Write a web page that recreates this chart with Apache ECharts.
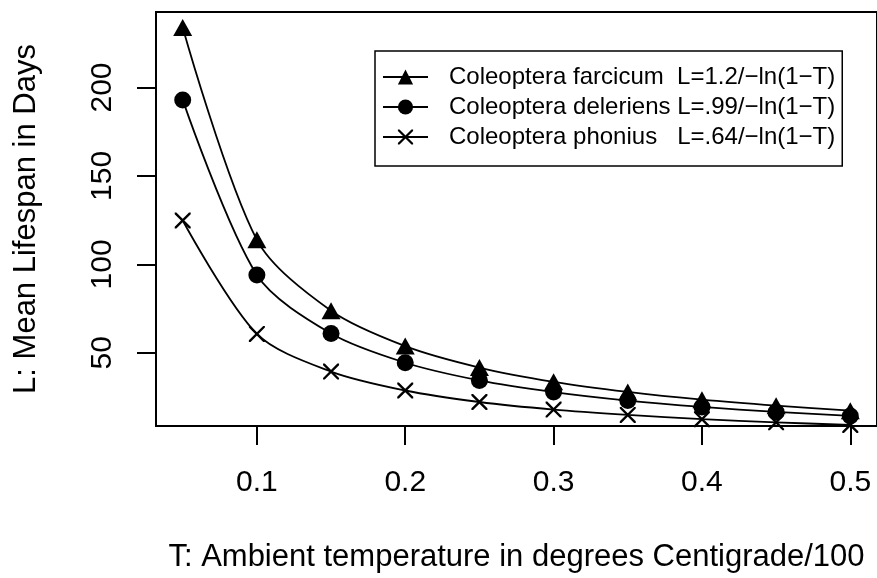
<!DOCTYPE html>
<html>
<head>
<meta charset="utf-8">
<script src="https://cdn.jsdelivr.net/npm/echarts@6/dist/echarts.min.js"></script>
<style>html,body{margin:0;padding:0;background:#fff}#c{width:877px;height:578px}</style>
</head>
<body>
<div id="c"></div>
<script>
const temps = [0.05, 0.10, 0.15, 0.20, 0.25, 0.30, 0.35, 0.40, 0.45, 0.50];
const farcicum = [234, 113.9, 73.8, 53.8, 41.7, 33.6, 27.9, 23.5, 20.1, 17.3];
const deleriens = [193, 94.0, 60.9, 44.4, 34.4, 27.8, 23.0, 19.4, 16.6, 14.3];
const phonius = [124.8, 60.7, 39.4, 28.7, 22.2, 17.9, 14.9, 12.5, 10.7, 9.2];
const seriesNames = [
  'Coleoptera farcicum  L=1.2/\u2212ln(1\u2212T)',
  'Coleoptera deleriens L=.99/\u2212ln(1\u2212T)',
  'Coleoptera phonius   L=.64/\u2212ln(1\u2212T)'
];
const xTicks = [0.1, 0.2, 0.3, 0.4, 0.5];
const yTicks = [50, 100, 150, 200];
const xTitle = 'T: Ambient temperature in degrees Centigrade/100';
const yTitle = 'L: Mean Lifespan in Days';

const FONT = '"Liberation Sans", Arial, Helvetica, sans-serif';
const crossPath = 'path://M0,0L1.05,0L10,8.95L10,10L8.95,10L0,1.05Z M8.95,0L10,0L10,1.05L1.05,10L0,10L0,8.95Z';

function pairs(vals) { return temps.map((t, i) => [t, vals[i]]); }
function mkSeries(name, vals, symbol, size) {
  return {
    name: name, type: 'line', data: pairs(vals),
    smooth: 0.3,
    symbol: symbol, symbolSize: size, showSymbol: true, showAllSymbol: true,
    lineStyle: { color: '#000', width: 1.8 },
    itemStyle: { color: '#000', borderWidth: 0 },
    emphasis: { disabled: true },
    animation: false
  };
}

const chart = echarts.init(document.getElementById('c'), null, { renderer: 'canvas' });
chart.setOption({
  animation: false,
  textStyle: { fontFamily: FONT, color: '#000' },
  grid: { left: 156, top: 12, width: 722, height: 415, show: true, borderColor: '#000', borderWidth: 2, backgroundColor: 'transparent' },
  xAxis: {
    type: 'value', min: 0.032, max: 0.518,
    name: xTitle, nameLocation: 'middle', nameGap: 116,
    nameTextStyle: { fontSize: 31, color: '#000', fontFamily: FONT },
    axisLine: { show: true, lineStyle: { color: '#000', width: 2 } },
    axisTick: { show: true, inside: false, length: 19, customValues: xTicks, lineStyle: { color: '#000', width: 2 } },
    axisLabel: { show: true, customValues: xTicks, fontSize: 30, color: '#000', margin: 42, fontFamily: FONT,
      formatter: v => v.toFixed(1) },
    splitLine: { show: false }
  },
  yAxis: {
    type: 'value', min: 8.63, max: 242.7,
    name: yTitle, nameLocation: 'middle', nameGap: 114, nameRotate: 90,
    nameTextStyle: { fontSize: 31, color: '#000', fontFamily: FONT },
    axisLine: { show: true, lineStyle: { color: '#000', width: 2 } },
    axisTick: { show: true, inside: false, length: 19, customValues: yTicks, lineStyle: { color: '#000', width: 2 } },
    axisLabel: { show: true, customValues: yTicks, fontSize: 30, color: '#000', margin: 38, rotate: 90, fontFamily: FONT },
    splitLine: { show: false }
  },
  legend: {
    show: true, orient: 'vertical', left: 375, top: 51,
    padding: [14, 7, 17, 7],
    borderColor: '#000', borderWidth: 1.5, backgroundColor: '#fff',
    itemWidth: 45, itemHeight: 19, itemGap: 6,
    textStyle: { fontSize: 24, lineHeight: 24, color: '#000', fontFamily: FONT, padding: [0, 0, 0, 16] },
    selectedMode: false,
    data: seriesNames
  },
  series: [
    mkSeries(seriesNames[0], farcicum, 'triangle', [19, 17]),
    mkSeries(seriesNames[1], deleriens, 'circle', 17),
    mkSeries(seriesNames[2], phonius, crossPath, 16)
  ]
});
</script>
</body>
</html>
